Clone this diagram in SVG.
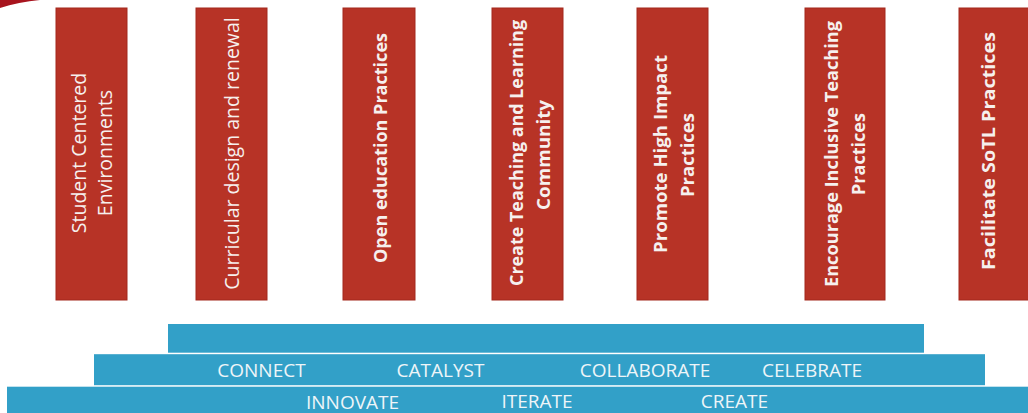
<svg xmlns="http://www.w3.org/2000/svg" width="1028" height="413" viewBox="0 0 1028 413">
  <style>
    .box { fill: #B73326; stroke: #A3291D; stroke-width: 1; }
    .bar { fill: #32A0C8; }
    .t { font-family: "Open Sans", "Liberation Sans", sans-serif; font-size: 19.5px; fill: #F6F0EE; text-anchor: middle; }
    .b { font-weight: bold; font-size: 18.5px; }
    .bt { font-family: "Open Sans", "Liberation Sans", sans-serif; font-size: 19px; fill: #EEF5F8; text-anchor: middle; }
  </style>
  <rect width="1028" height="413" fill="#FFFFFF"/>
  <path d="M0,0 H40 C26,1.5 12,4 0,8 Z" fill="#A8141E"/>

  <g id="node-student-centered">
    <rect class="box" x="56" y="8" width="71" height="292"/>
    <text class="t" transform="translate(85.5,153) rotate(-90)">Student Centered</text>
    <text class="t" transform="translate(112,153) rotate(-90)">Environments</text>
  </g>
  <g id="node-curricular">
    <rect class="box" x="196" y="8" width="71" height="292"/>
    <text class="t" transform="translate(239,153.5) rotate(-90)">Curricular design and renewal</text>
  </g>
  <g id="node-open-education">
    <rect class="box" x="343" y="8" width="72" height="292"/>
    <text class="t b" transform="translate(386.5,148) rotate(-90)" textLength="230" lengthAdjust="spacingAndGlyphs">Open education Practices</text>
  </g>
  <g id="node-teaching-community">
    <rect class="box" x="492" y="8" width="71" height="292"/>
    <text class="t b" transform="translate(522.5,153) rotate(-90)" textLength="266" lengthAdjust="spacingAndGlyphs">Create Teaching and Learning</text>
    <text class="t b" transform="translate(549.5,155) rotate(-90)" textLength="110" lengthAdjust="spacingAndGlyphs">Community</text>
  </g>
  <g id="node-high-impact">
    <rect class="box" x="637" y="8" width="71" height="292"/>
    <text class="t b" transform="translate(667,154) rotate(-90)" textLength="198" lengthAdjust="spacingAndGlyphs">Promote High Impact</text>
    <text class="t b" transform="translate(694,155) rotate(-90)" textLength="84" lengthAdjust="spacingAndGlyphs">Practices</text>
  </g>
  <g id="node-inclusive">
    <rect class="box" x="805" y="8" width="80" height="292"/>
    <text class="t b" transform="translate(837.5,154) rotate(-90)" textLength="266" lengthAdjust="spacingAndGlyphs">Encourage Inclusive Teaching</text>
    <text class="t b" transform="translate(865,154) rotate(-90)" textLength="82" lengthAdjust="spacingAndGlyphs">Practices</text>
  </g>
  <g id="node-sotl">
    <rect class="box" x="959" y="8" width="72" height="292"/>
    <text class="t b" transform="translate(994.5,151) rotate(-90)" textLength="238" lengthAdjust="spacingAndGlyphs">Facilitate SoTL Practices</text>
  </g>

  <g id="bar-top">
    <rect class="bar" x="168" y="324" width="756" height="28.7"/>
  </g>
  <g id="bar-middle">
    <rect class="bar" x="94" y="354.2" width="891" height="31"/>
    <text class="bt" x="261.5" y="377">CONNECT</text>
    <text class="bt" x="440.5" y="377">CATALYST</text>
    <text class="bt" x="645" y="377">COLLABORATE</text>
    <text class="bt" x="812" y="377">CELEBRATE</text>
  </g>
  <g id="bar-bottom">
    <rect class="bar" x="7" y="386.7" width="1025" height="30"/>
    <text class="bt" x="352.5" y="409">INNOVATE</text>
    <text class="bt" x="537" y="408">ITERATE</text>
    <text class="bt" x="734.5" y="408">CREATE</text>
  </g>

  <g id="connectors"/>
</svg>
